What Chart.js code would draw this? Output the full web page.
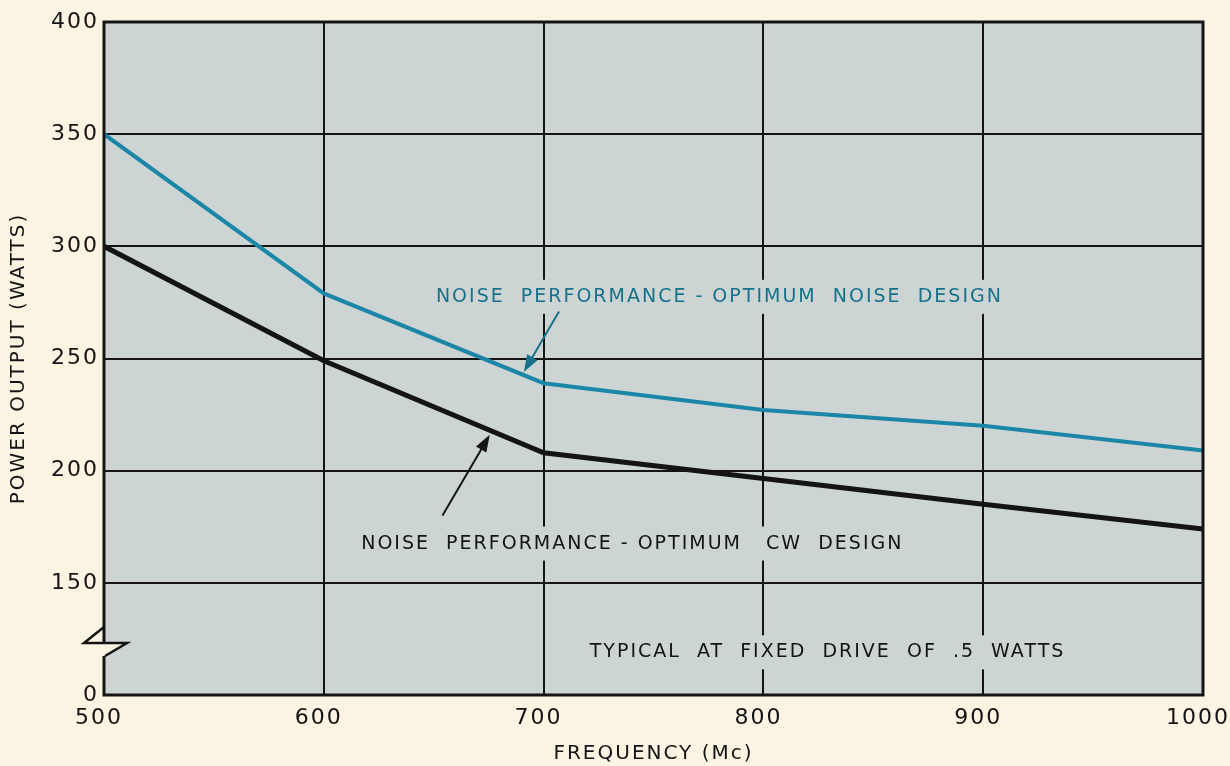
<!DOCTYPE html>
<html>
<head>
<meta charset="utf-8">
<script src="https://cdn.jsdelivr.net/npm/chart.js@4"></script>
<style>
  body { margin: 0; background: #fbf4e3; }
</style>
</head>
<body>
<canvas id="chart-power-output" width="1230" height="766"></canvas>
<script>
const frequencies = [500, 600, 700, 800, 900, 1000]
const noiseDesignPower = [350, 279, 239, 227, 220, 209]
const cwDesignPower = [300, 249, 208, 196.5, 185, 174]

const xTicks = [500, 600, 700, 800, 900, 1000]
const yTicks = [100, 150, 200, 250, 300, 350, 400]
const yTickLabels = ['0', '150', '200', '250', '300', '350', '400']

const teal = '#17718a'
const ink = '#141414'
const paper = '#fbf4e3'
const plotFill = '#ccd5d3'

// notes and arrows are placed in data units (frequency, watts)
const notes = [
  { text: 'NOISE  PERFORMANCE - OPTIMUM  NOISE  DESIGN', x: 651, y: 277.5, color: teal },
  { text: 'NOISE  PERFORMANCE - OPTIMUM   CW  DESIGN', x: 617, y: 167.5, color: ink },
  { text: 'TYPICAL  AT  FIXED  DRIVE  OF  .5  WATTS', x: 721, y: 119, color: ink },
]
const arrows = [
  { from: [707, 271], to: [691, 244], color: teal },
  { from: [654, 180], to: [675.5, 216], color: ink },
]

const paperPlugin = {
  id: 'paper',
  beforeDraw(chart) {
    const { ctx, chartArea: a } = chart
    ctx.letterSpacing = '2px'
    ctx.fillStyle = paper
    ctx.fillRect(0, 0, chart.width, chart.height)
    ctx.fillStyle = plotFill
    ctx.fillRect(a.left, a.top, a.right - a.left, a.bottom - a.top)
  },
}

const notesPlugin = {
  id: 'notes',
  afterDatasetsDraw(chart) {
    const { ctx, scales } = chart
    const px = (v) => scales.x.getPixelForValue(v)
    const py = (v) => scales.y.getPixelForValue(v)
    ctx.save()
    ctx.font = '19px "DejaVu Sans"'
    ctx.letterSpacing = '2px'
    ctx.textBaseline = 'middle'
    notes.forEach((n) => {
      const w = ctx.measureText(n.text).width
      ctx.fillStyle = plotFill
      ctx.fillRect(px(n.x) - 4, py(n.y) - 17, w + 8, 34)
      ctx.fillStyle = n.color
      ctx.fillText(n.text, px(n.x), py(n.y))
    })
    arrows.forEach((ar) => {
      const x0 = px(ar.from[0]), y0 = py(ar.from[1])
      const x1 = px(ar.to[0]), y1 = py(ar.to[1])
      const ang = Math.atan2(y1 - y0, x1 - x0)
      ctx.strokeStyle = ar.color
      ctx.fillStyle = ar.color
      ctx.lineWidth = 2
      ctx.beginPath()
      ctx.moveTo(x0, y0)
      ctx.lineTo(x1 - 10 * Math.cos(ang), y1 - 10 * Math.sin(ang))
      ctx.stroke()
      ctx.beginPath()
      ctx.moveTo(x1, y1)
      ctx.lineTo(x1 - 17 * Math.cos(ang) + 6 * Math.sin(ang), y1 - 17 * Math.sin(ang) - 6 * Math.cos(ang))
      ctx.lineTo(x1 - 17 * Math.cos(ang) - 6 * Math.sin(ang), y1 - 17 * Math.sin(ang) + 6 * Math.cos(ang))
      ctx.closePath()
      ctx.fill()
    })
    ctx.restore()
  },
  afterDraw(chart) {
    const { ctx, chartArea: a } = chart
    ctx.save()
    ctx.strokeStyle = ink
    ctx.lineWidth = 3
    ctx.strokeRect(a.left, a.top, a.right - a.left, a.bottom - a.top)
    // axis break on the left edge
    const yb = a.bottom - 60
    ctx.fillStyle = paper
    ctx.beginPath()
    ctx.moveTo(a.left, yb - 8)
    ctx.lineTo(a.left - 20, yb + 8)
    ctx.lineTo(a.left + 23, yb + 8)
    ctx.lineTo(a.left + 1, yb + 21)
    ctx.lineTo(a.left - 4, yb + 21)
    ctx.lineTo(a.left - 4, yb - 8)
    ctx.closePath()
    ctx.fill()
    ctx.lineWidth = 2.5
    ctx.beginPath()
    ctx.moveTo(a.left, yb - 8)
    ctx.lineTo(a.left - 20, yb + 8)
    ctx.lineTo(a.left + 23, yb + 8)
    ctx.lineTo(a.left + 1, yb + 21)
    ctx.stroke()
    ctx.restore()
  },
}

const ctx = document.getElementById('chart-power-output').getContext('2d')

const config = {
  type: 'line',
  data: {
    labels: frequencies,
    datasets: [
      {
        label: 'Noise performance - optimum noise design',
        data: frequencies.map((f, i) => ({ x: f, y: noiseDesignPower[i] })),
        borderColor: '#1b86a6',
        borderWidth: 4,
        pointRadius: 0,
        tension: 0,
      },
      {
        label: 'Noise performance - optimum CW design',
        data: frequencies.map((f, i) => ({ x: f, y: cwDesignPower[i] })),
        borderColor: ink,
        borderWidth: 5,
        pointRadius: 0,
        tension: 0,
      },
    ],
  },
  options: {
    responsive: false,
    animation: false,
    layout: { padding: { top: 22, right: 27, left: 0, bottom: 0 } },
    plugins: {
      legend: { display: false },
      tooltip: { enabled: false },
    },
    scales: {
      x: {
        type: 'linear',
        min: 500,
        max: 1000,
        afterBuildTicks: (axis) => { axis.ticks = xTicks.map((v) => ({ value: v })) },
        afterFit: (axis) => {
          axis.height = 71
          axis.paddingLeft = 0
          axis.paddingRight = 0
        },
        grid: { color: ink, lineWidth: 2, drawTicks: false },
        border: { display: false },
        ticks: {
          padding: 10,
          labelOffset: -5,
          color: ink,
          font: { family: 'DejaVu Sans', size: 22 },
          maxRotation: 0,
          callback: (v) => String(v),
        },
        title: {
          display: true,
          text: 'FREQUENCY (Mc)',
          color: ink,
          font: { family: 'DejaVu Sans', size: 20 },
          padding: { top: 0, bottom: 0 },
        },
      },
      y: {
        min: 100,
        max: 400,
        afterBuildTicks: (axis) => { axis.ticks = yTicks.map((v) => ({ value: v })) },
        afterFit: (axis) => { axis.width = 104 },
        grid: { color: ink, lineWidth: 2, drawTicks: false },
        border: { display: false },
        ticks: {
          padding: 5,
          color: ink,
          font: { family: 'DejaVu Sans', size: 22 },
          callback: (v) => yTickLabels[yTicks.indexOf(v)],
        },
        title: {
          display: true,
          text: 'POWER OUTPUT (WATTS)',
          color: ink,
          font: { family: 'DejaVu Sans', size: 20 },
          padding: { top: 7, bottom: 0 },
        },
      },
    },
  },
  plugins: [paperPlugin, notesPlugin],
}

const powerChart = new Chart(ctx, config)
</script>
</body>
</html>
